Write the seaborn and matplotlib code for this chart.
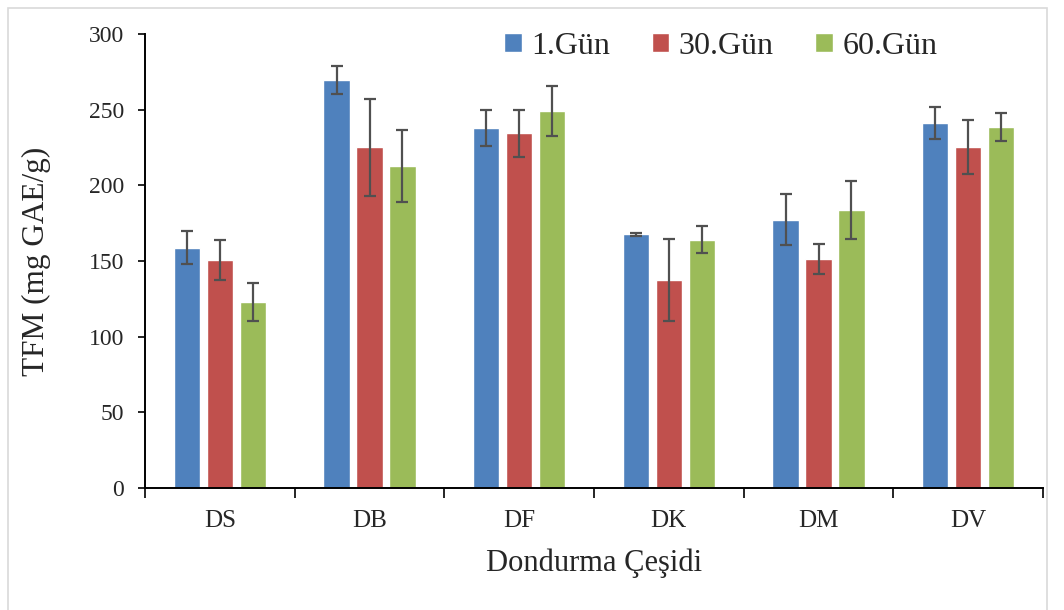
import numpy as np
import pandas as pd
import seaborn as sns
import matplotlib.pyplot as plt
from matplotlib.patches import Rectangle

# values
cesit = ["DS", "DB", "DF", "DK", "DM", "DV"]
gunler = ["1.Gün", "30.Gün", "60.Gün"]
gun1 = [158.8, 269.6, 237.7, 167.6, 177.3, 241.0]
gun30 = [150.7, 225.1, 234.4, 137.4, 151.3, 225.3]
gun60 = [122.7, 212.8, 249.3, 164.1, 183.7, 238.6]
hata1 = [10.8, 9.3, 12.0, 1.2, 17.0, 10.6]
hata30 = [13.2, 32.0, 15.4, 27.0, 10.0, 18.0]
hata60 = [12.6, 24.0, 16.6, 9.0, 19.0, 9.0]

renkler = ["#4F81BD", "#C0504D", "#9BBB59"]

df = pd.DataFrame({
    "Cesit": cesit * 3,
    "Gun": [g for g in gunler for _ in cesit],
    "TFM": gun1 + gun30 + gun60,
})
hatalar = [hata1, hata30, hata60]

sns.set_theme(style="white")
plt.rcParams["font.family"] = ["Liberation Serif", "DejaVu Serif"]

fig = plt.figure(figsize=(10.64, 6.10), dpi=100)
ax = fig.add_axes([145 / 1064, 1 - 488 / 610, (1043 - 145) / 1064, (488 - 34) / 610])

sns.barplot(data=df, x="Cesit", y="TFM", hue="Gun", order=cesit, hue_order=gunler,
            palette=renkler, width=0.66, gap=0.2, errorbar=None, ax=ax,
            saturation=1)

# error bars on top of each bar
for cont, err in zip(ax.containers, hatalar):
    xs = [b.get_x() + b.get_width() / 2 for b in cont]
    hs = [b.get_height() for b in cont]
    ax.errorbar(xs, hs, yerr=err, fmt="none", ecolor="#505050",
                elinewidth=1.6, capsize=4.5, capthick=1.6, zorder=5)

ax.set_ylim(0, 300)
ax.set_xlim(-0.5, 5.5)
ax.set_yticks(range(0, 301, 50))
ax.tick_params(axis="y", labelsize=17, direction="out", length=5, width=1.2,
               left=True, color="black", pad=10)
ax.set_xticks(np.arange(-0.5, 6, 1), minor=True)
ax.tick_params(axis="x", which="minor", direction="out", length=7, width=1.2,
               bottom=True, color="black")
ax.tick_params(axis="x", which="major", length=0, labelsize=18, pad=16)

for s in ["top", "right"]:
    ax.spines[s].set_visible(False)
for s in ["left", "bottom"]:
    ax.spines[s].set_color("black")
    ax.spines[s].set_linewidth(1.4)

ax.set_xlabel("Dondurma Çeşidi", fontsize=22, labelpad=12)
ax.set_ylabel("TFM (mg GAE/g)", fontsize=22.5, labelpad=27)

ax.legend(loc="upper left", ncol=3, frameon=False, fontsize=23,
          handlelength=0.55, handleheight=0.55, handletextpad=0.3,
          columnspacing=1.3, borderpad=0, borderaxespad=0,
          bbox_to_anchor=((504 - 145) / 898, 1.005))

# light frame around the chart
fig.patches.append(Rectangle((8 / 1064, -0.05), (1047 - 8) / 1064, 1.05 - 8 / 610,
                             transform=fig.transFigure, fill=False,
                             edgecolor="#d9d9d9", linewidth=1.2))

fig.savefig("out.png", dpi=100)
